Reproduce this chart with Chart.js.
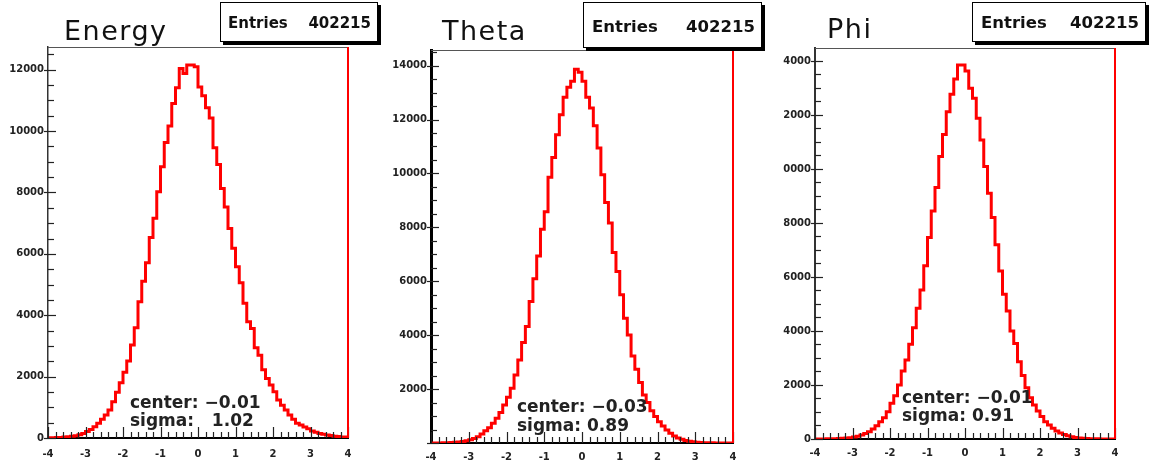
<!DOCTYPE html>
<html>
<head>
<meta charset="utf-8">
<script src="https://cdn.jsdelivr.net/npm/chart.js@4.4.1/dist/chart.umd.min.js"></script>
<style>
  body { margin: 0; background: #fff; }
  #wrap { position: relative; width: 1154px; height: 465px; overflow: hidden; font-family: "DejaVu Sans", sans-serif; }
  canvas { position: absolute; top: 0; }
  .title { position: absolute; font-size: 27px; letter-spacing: 1.5px; color: #111; line-height: 1; white-space: pre; }
  .box { position: absolute; background: #fff; border: 1px solid #000; box-shadow: 3px 3px 0 #000; }
  .box span { position: absolute; font-weight: bold; color: #111; line-height: 1; white-space: pre; }
  .fit { position: absolute; font-weight: bold; font-size: 17px; color: #222; line-height: 1; white-space: pre; }
</style>
</head>
<body>
<div id="wrap">
  <canvas id="c-energy" width="383" height="465" style="left:0px"></canvas>
  <canvas id="c-theta" width="385" height="465" style="left:383px"></canvas>
  <canvas id="c-phi" width="386" height="465" style="left:768px"></canvas>

  <div class="title" style="left:64px; top:17px;">Energy</div>
  <div class="title" style="left:442px; top:17px;">Theta</div>
  <div class="title" style="left:827px; top:15px;">Phi</div>

  <div class="box" style="left:220px; top:2px; width:156px; height:38px;">
    <span style="left:7px; top:13px; font-size:15px;">Entries</span>
    <span style="right:6px; top:13px; font-size:15px;">402215</span>
  </div>
  <div class="box" style="left:583px; top:2px; width:177px; height:44px;">
    <span style="left:8px; top:16px; font-size:16.5px;">Entries</span>
    <span style="right:6px; top:16px; font-size:16.5px;">402215</span>
  </div>
  <div class="box" style="left:972px; top:2px; width:172px; height:38px;">
    <span style="left:8px; top:12px; font-size:16.5px;">Entries</span>
    <span style="right:6px; top:12px; font-size:16.5px;">402215</span>
  </div>

  <div class="fit" style="left:130px; top:394px;">center: −0.01</div>
  <div class="fit" style="left:130px; top:412px;">sigma:   1.02</div>
  <div class="fit" style="left:517px; top:398px;">center: −0.03</div>
  <div class="fit" style="left:517px; top:417px;">sigma: 0.89</div>
  <div class="fit" style="left:902px; top:389px;">center: −0.01</div>
  <div class="fit" style="left:902px; top:407px;">sigma: 0.91</div>
</div>
<script>
// 80 bins of width 0.1 from -4 to 4
const xMin = -4;
const binWidth = 0.1;

const energyCounts = [
  5, 8, 10, 15, 20, 30, 40, 55, 75, 105,
  150, 210, 280, 370, 480, 610, 750, 910, 1180, 1490,
  1800, 2140, 2510, 3030, 3590, 4440, 5110, 5710, 6530, 7160,
  8020, 8840, 9630, 10170, 10900, 11410, 12040, 11880, 12150, 12150,
  12100, 11440, 11150, 10760, 10430, 9460, 8910, 8130, 7530, 6830,
  6180, 5580, 5060, 4390, 3790, 3570, 2940, 2700, 2220, 1940,
  1730, 1510, 1240, 1070, 910, 750, 610, 480, 420, 360,
  300, 230, 190, 150, 120, 100, 80, 60, 45, 35
];
const thetaCounts = [
  1, 1, 2, 4, 6, 10, 15, 25, 40, 60,
  85, 125, 170, 235, 330, 450, 570, 730, 920, 1130,
  1410, 1700, 2030, 2520, 3080, 3730, 4320, 5250, 6090, 6940,
  7930, 8580, 9860, 10590, 11440, 12180, 12830, 13200, 13420, 13870,
  13750, 13420, 12830, 12430, 11770, 10940, 9950, 8920, 8160, 7070,
  6360, 5500, 4630, 4010, 3230, 2740, 2240, 1780, 1500, 1200,
  980, 790, 630, 480, 360, 260, 185, 135, 95, 65,
  45, 30, 20, 13, 8, 5, 3, 2, 1, 1
];
const phiCounts = [
  1, 1, 2, 3, 5, 7, 10, 15, 25, 35,
  50, 70, 100, 150, 200, 270, 370, 490, 640, 790,
  1010, 1320, 1600, 2000, 2520, 2930, 3510, 4120, 4840, 5520,
  6420, 7460, 8440, 9310, 10460, 11280, 12120, 12770, 13330, 13850,
  13850, 13630, 12990, 12620, 11880, 11070, 10090, 9100, 8200, 7190,
  6220, 5360, 4740, 4000, 3540, 2860, 2350, 1900, 1530, 1260,
  1040, 830, 640, 520, 400, 300, 220, 170, 120, 85,
  60, 40, 28, 18, 12, 8, 5, 3, 2, 1
];

const xTickValues = [-4, -3, -2, -1, 0, 1, 2, 3, 4];
const xTickLabels = ["-4", "-3", "-2", "-1", "0", "1", "2", "3", "4"];

const energyYTicks = [0, 2000, 4000, 6000, 8000, 10000, 12000];
const energyYLabels = ["0", "2000", "4000", "6000", "8000", "10000", "12000"];
const thetaYTicks = [2000, 4000, 6000, 8000, 10000, 12000, 14000];
const thetaYLabels = ["2000", "4000", "6000", "8000", "10000", "12000", "14000"];
const phiYTicks = [0, 2000, 4000, 6000, 8000, 10000, 12000, 14000];
const phiYLabels = ["0", "2000", "4000", "6000", "8000", "0000", "2000", "4000"];

function toSteps(counts) {
  const pts = counts.map((c, i) => ({ x: xMin + i * binWidth, y: c }));
  pts.push({ x: xMin + counts.length * binWidth, y: counts[counts.length - 1] });
  return pts;
}

// ROOT style frame: ticks pointing inside, red right edge, thin top edge
const rootFrame = {
  id: 'rootFrame',
  afterDraw(chart) {
    const { ctx, chartArea: a, scales: { x, y } } = chart;
    const line = (x1, y1, x2, y2) => { ctx.beginPath(); ctx.moveTo(x1, y1); ctx.lineTo(x2, y2); ctx.stroke(); };
    ctx.save();
    ctx.strokeStyle = '#222';
    ctx.lineWidth = 1.2;
    for (let k = 0; k <= 40; k++) {
      const px = Math.round(x.getPixelForValue(-4 + k * 0.2)) + 0.5;
      line(px, a.bottom, px, a.bottom - (k % 5 === 0 ? 11 : 6));
    }
    for (let v = 0; v <= y.max; v += 500) {
      const py = Math.round(y.getPixelForValue(v)) + 0.5;
      if (v % 2000 === 0) line(a.left - 4, py, a.left + 8, py);
      else line(a.left, py, a.left + 6, py);
    }
    ctx.strokeStyle = '#555';
    ctx.lineWidth = 1;
    line(a.left, a.top + 0.5, a.right, a.top + 0.5);
    ctx.strokeStyle = '#ff0000';
    ctx.lineWidth = 2;
    line(a.right, a.top, a.right, a.bottom);
    ctx.restore();
  }
};

function makeHist(id, counts, cfg) {
  const tickFont = { family: 'DejaVu Sans', weight: 'bold', size: 10 };
  new Chart(document.getElementById(id), {
    type: 'line',
    data: {
      datasets: [{
        data: toSteps(counts),
        borderColor: '#ff0000',
        borderWidth: 3,
        stepped: 'after',
        pointRadius: 0,
        fill: false
      }]
    },
    options: {
      responsive: false,
      animation: false,
      layout: { padding: { top: cfg.top, right: cfg.right, left: 0, bottom: 0 } },
      plugins: { legend: { display: false }, tooltip: { enabled: false } },
      scales: {
        x: {
          type: 'linear', min: -4, max: 4,
          afterBuildTicks: s => { s.ticks = xTickValues.map(v => ({ value: v })); },
          afterFit: s => { s.height = cfg.xHeight; },
          ticks: { callback: (v, i) => xTickLabels[i], font: tickFont, color: '#222', padding: cfg.xPad, maxRotation: 0, autoSkip: false },
          grid: { display: false, drawTicks: false },
          border: { display: true, color: '#000', width: 2 }
        },
        y: {
          type: 'linear', min: 0, max: cfg.yMax,
          afterBuildTicks: s => { s.ticks = cfg.yTicks.map(v => ({ value: v })); },
          afterFit: s => { s.width = cfg.yWidth; },
          ticks: { callback: (v, i) => cfg.yLabels[i], font: tickFont, color: '#222', padding: 4, autoSkip: false },
          grid: { display: false, drawTicks: false },
          border: { display: true, color: cfg.axisColor, width: cfg.axisWidth }
        }
      }
    },
    plugins: [rootFrame]
  });
}

makeHist('c-energy', energyCounts, {
  top: 47, right: 35, xHeight: 27, yWidth: 48, xPad: 10, yMax: 12740,
  yTicks: energyYTicks, yLabels: energyYLabels, axisColor: '#333', axisWidth: 1.5
});
makeHist('c-theta', thetaCounts, {
  top: 50, right: 35, xHeight: 22, yWidth: 48, xPad: 8, yMax: 14580,
  yTicks: thetaYTicks, yLabels: thetaYLabels, axisColor: '#000', axisWidth: 3
});
makeHist('c-phi', phiCounts, {
  top: 48, right: 39, xHeight: 26, yWidth: 47, xPad: 8, yMax: 14480,
  yTicks: phiYTicks, yLabels: phiYLabels, axisColor: '#333', axisWidth: 2
});
</script>
</body>
</html>
